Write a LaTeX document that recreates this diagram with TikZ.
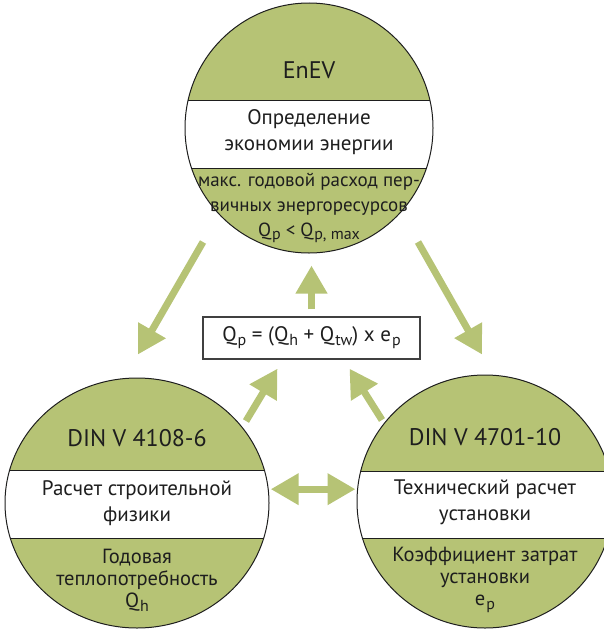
\documentclass[tikz,border=0pt]{standalone}
\usepackage{fontspec}
\setmainfont{PT Sans}
\usetikzlibrary{arrows.meta,shapes.geometric}

\definecolor{leaf}{RGB}{182,195,117}
\definecolor{ink}{RGB}{30,30,30}
\newcommand\lo[1]{\kern1pt\raisebox{-0.4ex}{\fontsize{16}{16}\selectfont #1}}

\tikzset{
    disc/.style n args={4}{
        ellipse, draw=ink, line width=1pt, fill=leaf, inner sep=0pt,
        minimum width=#1, minimum height=#2,
        path picture={
            \draw [ink, line width=1pt, fill=white]
                ([xshift=-3pt,yshift=#3]path picture bounding box.west)
                rectangle
                ([xshift=3pt,yshift=#4]path picture bounding box.east);
        }},
    title/.style={font=\fontsize{24}{24}\selectfont, text=ink},
    band/.style={font=\fontsize{21}{25.5}\selectfont, align=center, text=ink},
    note/.style={font=\fontsize{20.5}{22}\selectfont, align=center, text=ink},
    flow/.style={draw=leaf, line width=7pt, -{Triangle[width=30pt,length=28pt]}},
    both/.style={draw=leaf, line width=7pt,
        {Triangle[width=30pt,length=28pt]}-{Triangle[width=30pt,length=28pt]}},
    formulabox/.style={draw=ink!85, line width=1.2pt, fill=white,
        minimum width=217pt, minimum height=42pt,
        font=\fontsize{21}{21}\selectfont, text=ink},
}

\begin{document}
\begin{tikzpicture}[x=1pt,y=-1pt]
    \useasboundingbox (0,0) rectangle (604,629);

    % the three standards
    \node [disc={248pt}{250pt}{28pt}{-40pt}] (enev) at (309,128) {};
    \node [disc={264pt}{250pt}{33pt}{-35pt}] (din4108) at (137,503) {};
    \node [disc={256pt}{253pt}{30.5pt}{-36.5pt}] (din4701) at (485,501.5) {};

    \node [title] (enevtitle) at ([yshift=58pt]enev.center) {EnEV};
    \node [band] (enevband) at ([yshift=-4pt]enev.center)
        {Определение\\экономии энергии};
    \node [note, font=\fontsize{19}{25}\selectfont] (enevnote)
        at ([yshift=-80pt]enev.center)
        {макс. годовой расход пер-\\вичных энергоресурсов\\
         Q\lo{p} < Q\lo{p, max}};

    \node [title] (din4108title) at ([yshift=65pt]din4108.center) {DIN V 4108-6};
    \node [band] (din4108band) at (din4108.center)
        {Расчет строительной\\физики};
    \node [note] (din4108note) at ([yshift=-77pt]din4108.center)
        {Годовая\\теплопотребность\\Q\lo{h}};

    \node [title] (din4701title) at ([yshift=64.5pt]din4701.center) {DIN V 4701-10};
    \node [band] (din4701band) at ([yshift=-1pt]din4701.center)
        {Технический расчет\\установки};
    \node [note] (din4701note) at ([yshift=-78.5pt]din4701.center)
        {Коэффициент затрат\\установки\\e\lo{p}};

    % formula
    \node [formulabox] (formula) at (311.5,338)
        {Q\lo{p} = (Q\lo{h} + Q\lo{tw}) x e\lo{p}};

    % arrows
    \draw [flow, shorten <=7pt, shorten >=12pt]
        (formula.north) -- (formula.north |- enev.south);
    \draw [flow]
        ([xshift=-106pt,yshift=-114pt]enev.center)
        -- ([xshift=1pt,yshift=23pt]din4108.north);
    \draw [flow]
        ([xshift=109pt,yshift=-114pt]enev.center)
        -- ([xshift=-3pt,yshift=20pt]din4701.north);
    \draw [flow]
        ([xshift=109pt,yshift=82pt]din4108.center)
        -- ([xshift=-34pt,yshift=-9pt]formula.south);
    \draw [flow]
        ([xshift=-103pt,yshift=81.5pt]din4701.center)
        -- ([xshift=38pt,yshift=-9pt]formula.south);
    \draw [both, shorten <=2pt, shorten >=1pt]
        (din4108.6.5) -- (din4108.6.5 -| din4701.west);
\end{tikzpicture}
\end{document}
